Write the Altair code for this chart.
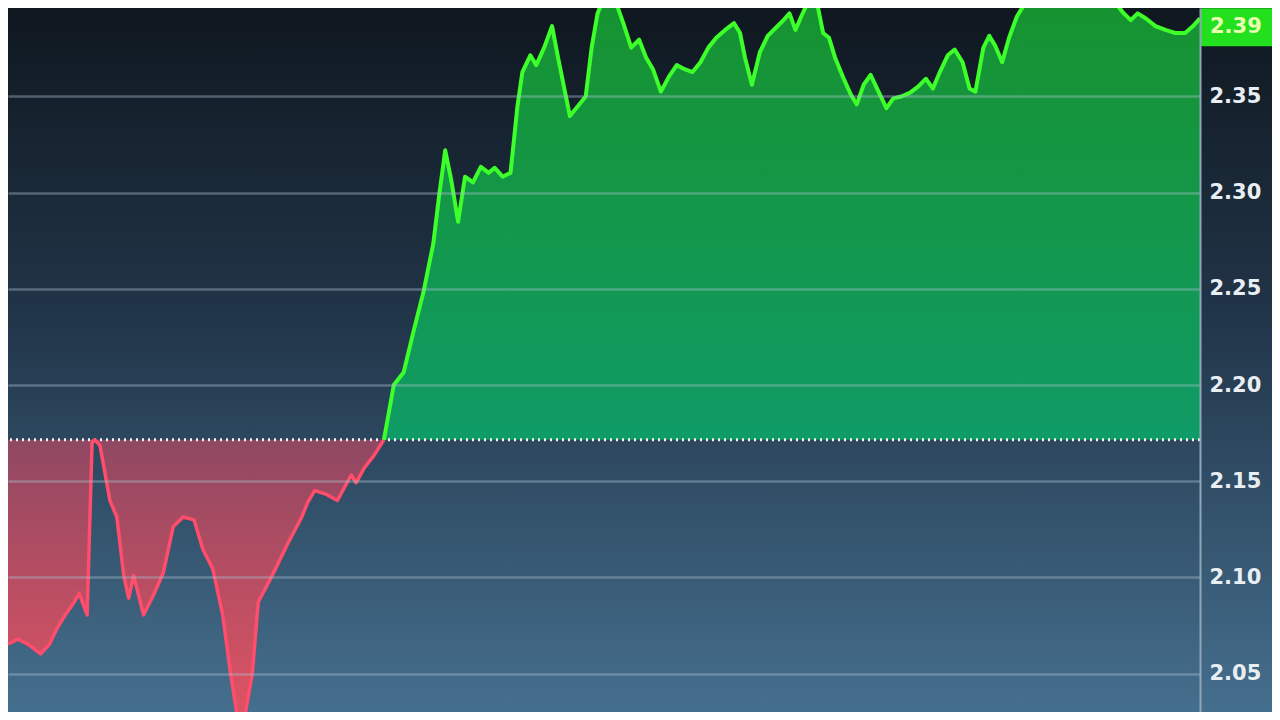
import altair as alt
import pandas as pd

# ---- data ----
red_t = [0, 10, 20, 33, 42, 50, 58, 67, 72, 80, 85, 88, 93, 103, 110, 117, 122, 127, 137, 147,
         157, 167, 177, 188, 197, 207, 217, 225, 232, 240, 247, 253, 267, 283, 297, 303, 310,
         322, 333, 347, 352, 360, 370, 380]
red_p = [2.0653, 2.0678, 2.0653, 2.0602, 2.0653, 2.0739, 2.0805, 2.0872, 2.0917, 2.0805, 2.1705,
         2.1715, 2.1685, 2.1400, 2.1314, 2.1009, 2.0892, 2.1009, 2.0805, 2.0907, 2.1024, 2.1263,
         2.1314, 2.1299, 2.1146, 2.1044, 2.0805, 2.0500, 2.0272, 2.0297, 2.0500, 2.0872, 2.1009,
         2.1177, 2.1314, 2.1390, 2.1451, 2.1431, 2.1400, 2.1532, 2.1492, 2.1568, 2.1634, 2.1715]

green_t = [380, 390, 400, 410, 420, 430, 436, 442, 448, 455, 462, 470, 478, 486, 492, 500, 508,
           515, 520, 528, 534, 542, 550, 556, 562, 568, 576, 584, 590, 596, 602, 615, 622, 630,
           638, 645, 652, 660, 668, 676, 684, 692, 700, 708, 716, 725, 734, 740, 745, 752, 760,
           768, 776, 784, 790, 796, 802, 808, 818, 824, 830, 836, 844, 852, 858, 865, 872, 880,
           888, 895, 903, 912, 920, 928, 935, 942, 950, 957, 965, 972, 978, 986, 992, 998, 1005,
           1012, 1020, 1028, 1060, 1090, 1120, 1128, 1135, 1142, 1150, 1160, 1170, 1180, 1190,
           1198, 1205]
green_p = [2.1715, 2.2000, 2.2066, 2.2280, 2.2483, 2.2737, 2.2992, 2.3220, 2.3068, 2.2849, 2.3083,
           2.3053, 2.3134, 2.3103, 2.3129, 2.3083, 2.3103, 2.3449, 2.3627, 2.3714, 2.3663, 2.3754,
           2.3866, 2.3703, 2.3551, 2.3398, 2.3449, 2.3500, 2.3754, 2.3932, 2.4008, 2.3983, 2.3881,
           2.3754, 2.3795, 2.3703, 2.3642, 2.3525, 2.3602, 2.3663, 2.3642, 2.3627, 2.3678, 2.3754,
           2.3805, 2.3846, 2.3881, 2.3830, 2.3703, 2.3561, 2.3729, 2.3815, 2.3856, 2.3897, 2.3932,
           2.3846, 2.3917, 2.3983, 2.3983, 2.3830, 2.3805, 2.3703, 2.3602, 2.3510, 2.3459, 2.3561,
           2.3612, 2.3525, 2.3439, 2.3490, 2.3500, 2.3520, 2.3551, 2.3592, 2.3541, 2.3627, 2.3714,
           2.3744, 2.3678, 2.3541, 2.3525, 2.3754, 2.3815, 2.3764, 2.3678, 2.3805, 2.3917, 2.3983,
           2.4034, 2.4008, 2.3983, 2.3932, 2.3897, 2.3932, 2.3907, 2.3866, 2.3846, 2.3830, 2.3830,
           2.3866, 2.3907]

baseline = 2.1715
tick_values = [2.05, 2.10, 2.15, 2.20, 2.25, 2.30, 2.35]
y_domain = [2.03, 2.396]
x_domain = [0, 1205]
current_label = "2.39"

# ---- frames ----
red_df = pd.DataFrame({"t": red_t, "price": red_p, "base": baseline})
green_df = pd.DataFrame({"t": green_t, "price": green_p, "base": baseline})
base_df = pd.DataFrame({"base": [baseline]})
last_df = pd.DataFrame({"price": [green_p[-1]], "label": [current_label]})

W, H = 1192, 704
RIGHT = 72

ysc = alt.Scale(domain=y_domain, nice=False, zero=False)
xs = alt.X("t:Q", scale=alt.Scale(domain=x_domain, nice=False, zero=False), axis=None)
ys = alt.Y("price:Q", scale=ysc,
           axis=alt.Axis(orient="right", values=tick_values, format=".2f", title=None,
                         grid=True, gridColor="#a9c0d0", gridOpacity=0.4, gridWidth=2.5,
                         domain=True, domainColor="#8fa6b8", domainWidth=2, ticks=False,
                         labelPadding=9, labelFontSize=21, labelFontWeight="bold",
                         labelColor="#e9eef3", labelFont="DejaVu Sans", zindex=1))

bg = alt.Chart(pd.DataFrame({"a": [0]})).mark_rect(
    color=alt.Gradient(gradient="linear", x1=0, x2=0, y1=0, y2=1,
                       stops=[alt.GradientStop(offset=0, color="#0f171f"),
                              alt.GradientStop(offset=0.45, color="#22364a"),
                              alt.GradientStop(offset=1, color="#456f8e")])
).encode(x=alt.value(0), x2=alt.value(W + RIGHT), y=alt.value(0), y2=alt.value(H))

green_area = alt.Chart(green_df).mark_area(
    clip=True, opacity=0.95,
    color=alt.Gradient(gradient="linear", x1=0, x2=0, y1=0, y2=1,
                       stops=[alt.GradientStop(offset=0, color="#17992f"),
                              alt.GradientStop(offset=1, color="#0ea067")])
).encode(x=xs, y=ys, y2="base:Q")

red_area = alt.Chart(red_df).mark_area(
    clip=True, opacity=0.9,
    color=alt.Gradient(gradient="linear", x1=0, x2=0, y1=0, y2=1,
                       stops=[alt.GradientStop(offset=0, color="#9a4862"),
                              alt.GradientStop(offset=1, color="#f0505f")])
).encode(x=xs, y=ys, y2="base:Q")

green_line = alt.Chart(green_df).mark_line(
    clip=True, color="#3dff2a", strokeWidth=4, strokeJoin="round"
).encode(x=xs, y=ys)

red_line = alt.Chart(red_df).mark_line(
    clip=True, color="#ff4d6b", strokeWidth=3.5, strokeJoin="round"
).encode(x=xs, y=ys)

base_rule = alt.Chart(base_df).mark_rule(
    color="#f4f4f4", strokeWidth=3, strokeDash=[2, 4]
).encode(y=alt.Y("base:Q", scale=ysc))

box = alt.Chart(last_df).mark_rect(
    color="#22e01e", width=76, height=38, cornerRadius=2, yOffset=9
).encode(x=alt.value(W + 38), y=alt.Y("price:Q", scale=ysc))

box_text = alt.Chart(last_df).mark_text(
    color="#e8ffb0", fontSize=21, fontWeight="bold", font="DejaVu Sans", align="left",
    baseline="middle", yOffset=9
).encode(x=alt.value(W + 10), y=alt.Y("price:Q", scale=ysc), text="label:N")

chart = alt.layer(
    bg, green_area, red_area, base_rule, green_line, red_line, box, box_text
).properties(
    width=W, height=H,
    padding={"left": 0, "top": 0, "right": RIGHT, "bottom": 0},
    autosize=alt.AutoSizeParams(type="none"),
    background="#2a4560"
).configure_view(stroke=None)

chart.save("out.html", embed_options={"renderer": "svg", "actions": False})
